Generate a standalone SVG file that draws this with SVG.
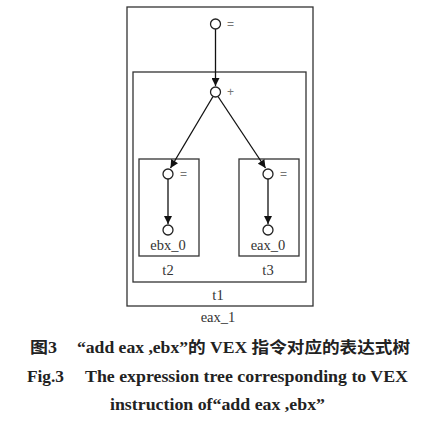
<svg xmlns="http://www.w3.org/2000/svg" width="442" height="427" viewBox="0 0 442 427">
<style>
.box{fill:none;stroke:#333;stroke-width:1.3}
.node{fill:#fff;stroke:#222;stroke-width:1.3}
.edge{stroke:#111;stroke-width:1.3;fill:none}
.lbl{font-family:"Liberation Serif",serif;font-size:14.5px;fill:#333}
.op{font-family:"Liberation Sans",sans-serif;font-size:12px;fill:#777}
.cap{font-family:"Liberation Serif","Noto Sans CJK SC",serif;font-weight:bold;font-size:16px;fill:#222}
</style>
<defs>
<marker id="arr" viewBox="0 0 10 10" refX="10" refY="5" markerWidth="9" markerHeight="8" markerUnits="userSpaceOnUse" orient="auto">
<path d="M0,0 L10,5 L0,10 z" fill="#111"/>
</marker>
</defs>
<rect id="box-eax1" class="box" x="127" y="7" width="186" height="299"/>
<rect id="box-t1" class="box" x="133" y="72" width="173" height="210"/>
<rect id="box-t2" class="box" x="139" y="159" width="60" height="97"/>
<rect id="box-t3" class="box" x="239" y="159" width="60" height="97"/>
<g id="connectors">
<line class="edge" x1="215.5" y1="29" x2="215.5" y2="86" marker-end="url(#arr)"/>
<line class="edge" x1="213" y1="96.5" x2="170.5" y2="168" marker-end="url(#arr)"/>
<line class="edge" x1="218" y1="96.5" x2="265.5" y2="168" marker-end="url(#arr)"/>
<line class="edge" x1="168" y1="179" x2="168" y2="224" marker-end="url(#arr)"/>
<line class="edge" x1="268" y1="179" x2="268" y2="224" marker-end="url(#arr)"/>
</g>
<g id="n-assign-top"><circle class="node" cx="215.5" cy="24" r="5"/><text class="op" x="227" y="28">=</text></g>
<g id="n-plus"><circle class="node" cx="215.5" cy="92" r="5"/><text class="op" x="227" y="96">+</text></g>
<g id="n-assign-t2"><circle class="node" cx="168" cy="174" r="5"/><text class="op" x="180" y="178">=</text></g>
<g id="n-ebx0"><circle class="node" cx="168" cy="230" r="5"/><text class="lbl" x="168" y="250" text-anchor="middle">ebx_0</text></g>
<g id="n-assign-t3"><circle class="node" cx="268" cy="174" r="5"/><text class="op" x="280" y="178">=</text></g>
<g id="n-eax0"><circle class="node" cx="268" cy="230" r="5"/><text class="lbl" x="268" y="250" text-anchor="middle">eax_0</text></g>
<text class="lbl" x="168" y="275" text-anchor="middle">t2</text>
<text class="lbl" x="268" y="275" text-anchor="middle">t3</text>
<text class="lbl" x="218" y="300" text-anchor="middle">t1</text>
<text class="lbl" x="218" y="322" text-anchor="middle">eax_1</text>
<text class="cap" x="30" y="353" textLength="27" lengthAdjust="spacingAndGlyphs">图3</text>
<text class="cap" x="77" y="353" textLength="333" lengthAdjust="spacingAndGlyphs">“add eax ,ebx”的 VEX 指令对应的表达式树</text>
<text class="cap" x="27" y="382" textLength="37" lengthAdjust="spacingAndGlyphs">Fig.3</text>
<text class="cap" x="85" y="382" textLength="323" lengthAdjust="spacingAndGlyphs">The expression tree corresponding to VEX</text>
<text class="cap" x="110" y="410" textLength="215" lengthAdjust="spacingAndGlyphs">instruction of“add eax ,ebx”</text>
</svg>
